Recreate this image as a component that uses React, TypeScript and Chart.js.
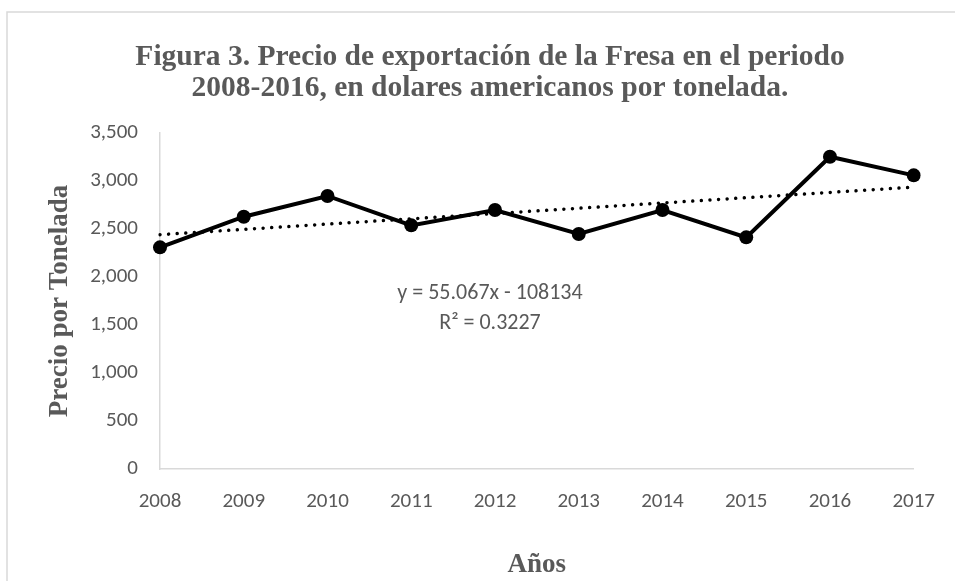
import React, { useEffect, useRef } from "react";
import { Chart, registerables } from "chart.js";

Chart.register(...registerables);

const years = ["2008", "2009", "2010", "2011", "2012", "2013", "2014", "2015", "2016", "2017"];
const prices = [2309, 2628, 2844, 2538, 2698, 2448, 2698, 2413, 3253, 3059];
const trendYears = ["2008", "2017"];
const trendValues = [2441, 2936];
const titleLines = [
  "Figura 3. Precio de exportación de la Fresa en el periodo",
  "2008-2016, en dolares americanos por tonelada.",
];
const equationLines = ["y = 55.067x - 108134", "R² = 0.3227"];
const yTitle = "Precio por Tonelada";
const xTitle = "Años";

const GRAY = "#595959";
const SANS = "Carlito, Lato, 'Liberation Sans', sans-serif";
const SERIF = "'Liberation Serif', 'DejaVu Serif', serif";

const framePlugin = {
  id: "frame",
  beforeDraw(chart: any) {
    const ctx = chart.ctx;
    ctx.save();
    ctx.fillStyle = "#ffffff";
    ctx.fillRect(0, 0, chart.width, chart.height);
    ctx.strokeStyle = "#d9d9d9";
    ctx.lineWidth = 1.5;
    ctx.beginPath();
    ctx.moveTo(7, chart.height);
    ctx.lineTo(7, 12);
    ctx.lineTo(chart.width, 12);
    ctx.stroke();
    ctx.restore();
  },
};

const textPlugin = {
  id: "texts",
  afterDraw(chart: any) {
    const { ctx, chartArea } = chart;
    ctx.save();
    ctx.fillStyle = GRAY;
    ctx.textAlign = "center";
    ctx.textBaseline = "middle";
    ctx.font = `bold 29.5px ${SERIF}`;
    ctx.fillText(titleLines[0], 490, 57);
    ctx.fillText(titleLines[1], 490, 88);
    ctx.font = `22px ${SANS}`;
    const cx = chartArea.left + 330;
    ctx.fillText(equationLines[0], cx, chartArea.top + 160);
    ctx.fillText(equationLines[1], cx, chartArea.top + 190);
    ctx.restore();
  },
};

export default function App() {
  const ref = useRef<HTMLCanvasElement>(null);
  useEffect(() => {
    if (!ref.current) return;
    const chart = new Chart(ref.current, {
      type: "line",
      data: {
        labels: years,
        datasets: [
          {
            label: "Precio",
            data: prices,
            borderColor: "#000000",
            backgroundColor: "#000000",
            borderWidth: 4,
            pointRadius: 7,
            pointBackgroundColor: "#000000",
            pointBorderWidth: 0,
            tension: 0,
            order: 1,
          },
          {
            label: "Tendencia",
            data: trendYears.map((y, i) => ({ x: y, y: trendValues[i] })),
            borderColor: "#000000",
            borderWidth: 3.5,
            borderDash: [0.01, 8.6],
            borderCapStyle: "round",
            pointRadius: 0,
            order: 2,
          },
        ],
      },
      options: {
        responsive: false,
        animation: false,
        devicePixelRatio: 1,
        layout: { padding: { top: 133, right: 39, bottom: 0, left: 0 } },
        plugins: {
          legend: { display: false },
          tooltip: { enabled: false },
          title: { display: false },
        },
        scales: {
          x: {
            type: "category",
            offset: false,
            grid: { display: false, drawTicks: false },
            border: { display: true, color: "#d9d9d9", width: 1.5 },
            ticks: { color: GRAY, font: { family: SANS, size: 21 }, padding: 20, maxRotation: 0, autoSkip: false },
            title: {
              display: true,
              text: xTitle,
              color: GRAY,
              font: { family: SERIF, size: 27, weight: "bold", lineHeight: 1.2 },
              padding: { top: 0, bottom: 0 },
            },
            afterFit(scale: any) {
              scale.height = 112;
            },
          },
          y: {
            min: 0,
            max: 3500,
            grid: { display: false, drawTicks: false },
            border: { display: true, color: "#d9d9d9", width: 1.5 },
            ticks: {
              stepSize: 500,
              color: GRAY,
              font: { family: SANS, size: 21 },
              padding: 22,
              callback: (v: any) => Number(v).toLocaleString("en-US"),
            },
            title: {
              display: true,
              text: yTitle,
              color: GRAY,
              font: { family: SERIF, size: 27, weight: "bold", lineHeight: 1.2 },
              padding: { top: 44, bottom: 0 },
            },
            afterFit(scale: any) {
              scale.width = 160;
            },
          },
        },
      },
      plugins: [framePlugin, textPlugin],
    } as any);
    return () => chart.destroy();
  }, []);
  return (
    <div style={{ position: "fixed", left: 0, top: 0, width: 955, height: 581, background: "#fff" }}>
      <canvas ref={ref} width={955} height={581} />
    </div>
  );
}
